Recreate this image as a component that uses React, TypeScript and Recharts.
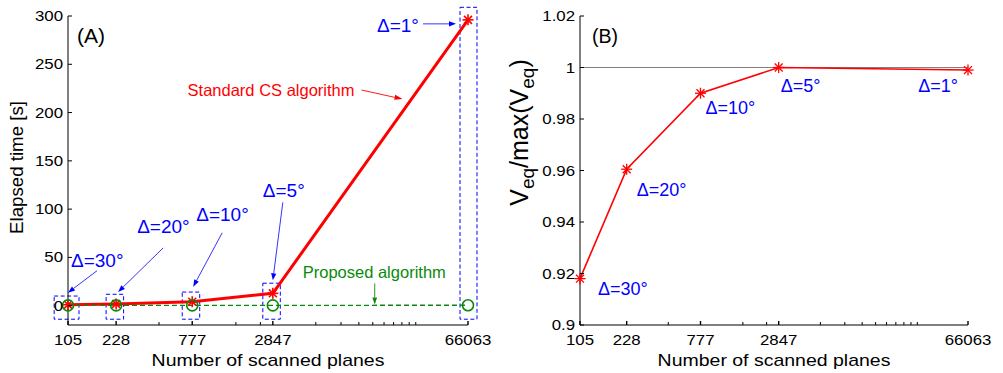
import React from 'react';
import { LineChart, Line, XAxis, YAxis, ReferenceArea, ReferenceDot, ReferenceLine } from 'recharts';

// ---------- data ----------
const planes = [105, 228, 777, 2847, 66063];
const csTime = [1.0, 1.8, 4.1, 12.8, 296];
const proposedTime = [0.3, 0.3, 0.3, 0.35, 0.4];
const veqRatio = [0.918, 0.9605, 0.99, 1.0, 0.999];
const deltaLabels = ['Δ=30°', 'Δ=20°', 'Δ=10°', 'Δ=5°', 'Δ=1°'];
const xMajorTicks = [105, 228, 777, 2847, 66063];
const xMinorTicks = [455, 1570, 2330, 5690, 8540, 11390, 14240, 17080, 19930, 22780, 25620, 28470];
const yTicksA = [0, 50, 100, 150, 200, 250, 300];
const yTicksB = [0.9, 0.92, 0.94, 0.96, 0.98, 1, 1.02];

const dataA = planes.map((n, i) => ({ n, cs: csTime[i], prop: proposedTime[i] }));
const dataB = planes.map((n, i) => ({ n, v: veqRatio[i] }));

// ---------- styling / annotation layout ----------
const FONT = '"Liberation Sans", Arial, Helvetica, sans-serif';
const RED = '#ff0000';
const GREEN = '#0a8a0a';
const BLUE = '#0000ff';
const STRETCH = 1.16;
const allXTicks = [...xMajorTicks, ...xMinorTicks];

const boxLeftF = [1.25, 1.175, 1.175, 1.175, 1.137];
const boxRightF = [1.194, 1.128, 1.128, 1.128, 1.156];
const boxTopPad = [9, 10, 10, 10.5, 13];
const boxBottom = -14;

const annoA = [
  { tx: 3, ty: -38, ax1: 29, ay1: -34, ax2: 0, ay2: -12 },
  { tx: 21, ty: -71, ax1: 47, ay1: -56, ax2: 2, ay2: -12 },
  { tx: 4, ty: -81, ax1: 30, ay1: -69, ax2: 1, ay2: -15 },
  { tx: -10, ty: -96, ax1: 10, ay1: -91, ax2: 0, ay2: -13 },
  { tx: -91, ty: 12, ax1: -45, ay1: 4, ax2: -12, ay2: 4 },
];
const annoB = [
  { tx: 18, ty: 16, anchor: 'start' },
  { tx: 10, ty: 27, anchor: 'start' },
  { tx: 5, ty: 21, anchor: 'start' },
  { tx: 2, ty: 24, anchor: 'start' },
  { tx: -10, ty: 22, anchor: 'end' },
];
const csCallout = { x: 23000, y: 214 };
const propCallout = { x: 14700, y: 0.3 };

// ---------- helpers ----------
function Arrow({ x1, y1, x2, y2, color, width = 0.8, head = 7, headW = 2.6 }: any) {
  const dx = x2 - x1, dy = y2 - y1;
  const L = Math.hypot(dx, dy) || 1;
  const ux = dx / L, uy = dy / L;
  const bx = x2 - ux * head, by = y2 - uy * head;
  const px = -uy * headW, py = ux * headW;
  return (
    <g>
      <line x1={x1} y1={y1} x2={bx} y2={by} stroke={color} strokeWidth={width} />
      <polygon points={`${x2},${y2} ${bx + px},${by + py} ${bx - px},${by - py}`} fill={color} />
    </g>
  );
}

function Star({ cx, cy, r = 5, w = 1.3 }: any) {
  if (cx == null || cy == null) return null;
  const d = r * 0.72;
  return (
    <g stroke={RED} strokeWidth={w}>
      <line x1={cx - r} y1={cy} x2={cx + r} y2={cy} />
      <line x1={cx} y1={cy - r} x2={cx} y2={cy + r} />
      <line x1={cx - d} y1={cy - d} x2={cx + d} y2={cy + d} />
      <line x1={cx - d} y1={cy + d} x2={cx + d} y2={cy - d} />
    </g>
  );
}

function XTick(props: any) {
  const { x, y, payload, side } = props;
  const v = payload.value;
  const major = xMajorTicks.includes(v);
  const len = major ? 4 : 3;
  const dir = side === 'bottom' ? -1 : 1;
  return (
    <g>
      <line x1={x} x2={x} y1={y} y2={y + dir * len} stroke="#000" strokeWidth={major ? 1.4 : 1} />
      {side === 'bottom' && major && (
        <text
          transform={`translate(${x},${y + 20}) scale(${STRETCH},1)`}
          textAnchor="middle"
          fontSize={14.5}
          fontFamily={FONT}
          fill="#000"
        >
          {v}
        </text>
      )}
    </g>
  );
}

function YTick(props: any) {
  const { x, y, payload, side } = props;
  const dir = side === 'left' ? 1 : -1;
  return (
    <g>
      <line x1={x} x2={x + dir * 4} y1={y} y2={y} stroke="#000" strokeWidth={1} />
      {side === 'left' && (
        <text
          transform={`translate(${x - 5},${y + 5}) scale(${STRETCH},1)`}
          textAnchor="end"
          fontSize={14.5}
          fontFamily={FONT}
          fill="#000"
        >
          {String(payload.value)}
        </text>
      )}
    </g>
  );
}

const xLabel = (p: any) => {
  const vb = p.viewBox;
  return (
    <text
      transform={`translate(${vb.x + vb.width / 2},${vb.y + 41}) scale(${STRETCH},1)`}
      textAnchor="middle"
      fontSize={16.8}
      fontFamily={FONT}
      fill="#000"
    >
      Number of scanned planes
    </text>
  );
};

const yLabelA = (p: any) => {
  const vb = p.viewBox;
  const cx = vb.x + 23;
  const cy = vb.y + vb.height / 2 - 3;
  return (
    <text x={cx} y={cy} transform={`rotate(-90, ${cx}, ${cy})`} textAnchor="middle" fontSize={18.7} fontFamily={FONT} fill="#000">
      Elapsed time [s]
    </text>
  );
};

const yLabelB = (p: any) => {
  const vb = p.viewBox;
  const cx = vb.x + 28;
  const cy = vb.y + vb.height / 2 - 38;
  return (
    <text x={cx} y={cy} transform={`rotate(-90, ${cx}, ${cy})`} textAnchor="middle" fontSize={25} fontFamily={FONT} fill="#000">
      V<tspan dy={6} fontSize={19}>eq</tspan>
      <tspan dy={-6}>/max(V</tspan>
      <tspan dy={6} fontSize={19}>eq</tspan>
      <tspan dy={-6}>)</tspan>
    </text>
  );
};

function axisSet(yDomain: number[], yTicks: number[], yWidth: number, xl: any, yl: any) {
  return [
    <XAxis
      key="xb"
      xAxisId="b"
      dataKey="n"
      type="number"
      scale="log"
      domain={[105, 66063]}
      ticks={allXTicks}
      interval={0}
      tickSize={0}
      tickMargin={0}
      tickLine={false}
      axisLine={{ stroke: '#000', strokeWidth: 1 }}
      height={48}
      tick={(p: any) => <XTick {...p} side="bottom" />}
      label={{ content: xl }}
    />,
    <XAxis
      key="xt"
      xAxisId="t"
      orientation="top"
      type="number"
      scale="log"
      domain={[105, 66063]}
      ticks={allXTicks}
      interval={0}
      tickSize={0}
      tickMargin={0}
      tickLine={false}
      axisLine={{ stroke: '#000', strokeWidth: 1 }}
      height={0}
      tick={(p: any) => <XTick {...p} side="top" />}
    />,
    <YAxis
      key="yl"
      yAxisId="l"
      type="number"
      domain={yDomain}
      ticks={yTicks}
      interval={0}
      tickSize={0}
      tickMargin={0}
      tickLine={false}
      axisLine={{ stroke: '#000', strokeWidth: 1 }}
      width={yWidth}
      tick={(p: any) => <YTick {...p} side="left" />}
      label={{ content: yl }}
    />,
    <YAxis
      key="yr"
      yAxisId="r"
      orientation="right"
      type="number"
      domain={yDomain}
      ticks={yTicks}
      interval={0}
      tickSize={0}
      tickMargin={0}
      tickLine={false}
      axisLine={{ stroke: '#000', strokeWidth: 1 }}
      width={0}
      tick={(p: any) => <YTick {...p} side="right" />}
    />,
  ];
}

function PanelA() {
  return (
    <LineChart width={500} height={373} data={dataA} margin={{ top: 16, right: 32, bottom: 0, left: 0 }}>
      {axisSet([-20, 300], yTicksA, 68, xLabel, yLabelA)}
      {planes.map((n, i) => (
        <ReferenceArea
          key={'box' + i}
          xAxisId="b"
          yAxisId="l"
          x1={n / boxLeftF[i]}
          x2={n * boxRightF[i]}
          y1={boxBottom}
          y2={csTime[i] + boxTopPad[i]}
          ifOverflow="visible"
          fill="none"
          fillOpacity={0}
          stroke={BLUE}
          strokeWidth={1}
          strokeDasharray="4 2.5"
        />
      ))}
      <Line
        xAxisId="b"
        yAxisId="l"
        dataKey="cs"
        stroke={RED}
        strokeWidth={3}
        isAnimationActive={false}
        dot={(p: any) => <Star key={'sa' + p.index} cx={p.cx} cy={p.cy} r={5.5} w={1.6} />}
        activeDot={false}
      />
      <Line
        xAxisId="b"
        yAxisId="l"
        dataKey="prop"
        stroke={GREEN}
        strokeWidth={1.4}
        strokeDasharray="5 3"
        isAnimationActive={false}
        dot={(p: any) => (
          <circle key={'ca' + p.index} cx={p.cx} cy={p.cy} r={5.5} fill="none" stroke={GREEN} strokeWidth={1.6} />
        )}
        activeDot={false}
      />
      {planes.map((n, i) => (
        <ReferenceDot
          key={'la' + i}
          xAxisId="b"
          yAxisId="l"
          x={n}
          y={csTime[i]}
          r={0}
          ifOverflow="visible"
          shape={(p: any) => {
            const a = annoA[i];
            return (
              <g>
                <Arrow x1={p.cx + a.ax1} y1={p.cy + a.ay1} x2={p.cx + a.ax2} y2={p.cy + a.ay2} color={BLUE} />
                <text x={p.cx + a.tx} y={p.cy + a.ty} fontSize={19} fontFamily={FONT} fill={BLUE}>
                  {deltaLabels[i]}
                </text>
              </g>
            );
          }}
        />
      ))}
      <ReferenceDot
        xAxisId="b"
        yAxisId="l"
        x={csCallout.x}
        y={csCallout.y}
        r={0}
        ifOverflow="visible"
        shape={(p: any) => (
          <g>
            <Arrow x1={p.cx - 41} y1={p.cy - 9} x2={p.cx} y2={p.cy} color={RED} width={0.9} head={8} headW={2.6} />
            <text x={p.cx - 48} y={p.cy - 3} textAnchor="end" fontSize={16.5} fontFamily={FONT} fill={RED}>
              Standard CS algorithm
            </text>
          </g>
        )}
      />
      <ReferenceDot
        xAxisId="b"
        yAxisId="l"
        x={propCallout.x}
        y={propCallout.y}
        r={0}
        ifOverflow="visible"
        shape={(p: any) => (
          <g>
            <Arrow x1={p.cx} y1={p.cy - 22} x2={p.cx} y2={p.cy - 1} color={GREEN} width={0.9} head={7} headW={2.4} />
            <text x={p.cx - 72} y={p.cy - 27} fontSize={16.5} fontFamily={FONT} fill={GREEN}>
              Proposed algorithm
            </text>
          </g>
        )}
      />
      <ReferenceDot
        xAxisId="b"
        yAxisId="l"
        x={105}
        y={300}
        r={0}
        ifOverflow="visible"
        shape={(p: any) => (
          <text x={p.cx + 9} y={p.cy + 27} fontSize={21} fontFamily={FONT} fill="#000">
            (A)
          </text>
        )}
      />
    </LineChart>
  );
}

function PanelB() {
  return (
    <LineChart width={503} height={373} data={dataB} margin={{ top: 16, right: 35, bottom: 0, left: 0 }}>
      {axisSet([0.9, 1.02], yTicksB, 80, xLabel, yLabelB)}
      <ReferenceLine xAxisId="b" yAxisId="l" y={1} stroke="#808080" strokeWidth={1} />
      <Line
        xAxisId="b"
        yAxisId="l"
        dataKey="v"
        stroke={RED}
        strokeWidth={1.6}
        isAnimationActive={false}
        dot={(p: any) => <Star key={'sb' + p.index} cx={p.cx} cy={p.cy} r={5.5} w={1.3} />}
        activeDot={false}
      />
      {planes.map((n, i) => (
        <ReferenceDot
          key={'lb' + i}
          xAxisId="b"
          yAxisId="l"
          x={n}
          y={veqRatio[i]}
          r={0}
          ifOverflow="visible"
          shape={(p: any) => {
            const a = annoB[i];
            return (
              <text x={p.cx + a.tx} y={p.cy + a.ty} textAnchor={a.anchor} fontSize={18} fontFamily={FONT} fill={BLUE}>
                {deltaLabels[i]}
              </text>
            );
          }}
        />
      ))}
      <ReferenceDot
        xAxisId="b"
        yAxisId="l"
        x={105}
        y={1.02}
        r={0}
        ifOverflow="visible"
        shape={(p: any) => (
          <text x={p.cx + 12} y={p.cy + 27} fontSize={19.5} fontFamily={FONT} fill="#000">
            (B)
          </text>
        )}
      />
    </LineChart>
  );
}

export default function App() {
  return (
    <div style={{ position: 'absolute', left: 0, top: 0, width: 1003, height: 373, background: '#fff' }}>
      <div style={{ position: 'absolute', left: 0, top: 0 }}>
        <PanelA />
      </div>
      <div style={{ position: 'absolute', left: 500, top: 0 }}>
        <PanelB />
      </div>
    </div>
  );
}
